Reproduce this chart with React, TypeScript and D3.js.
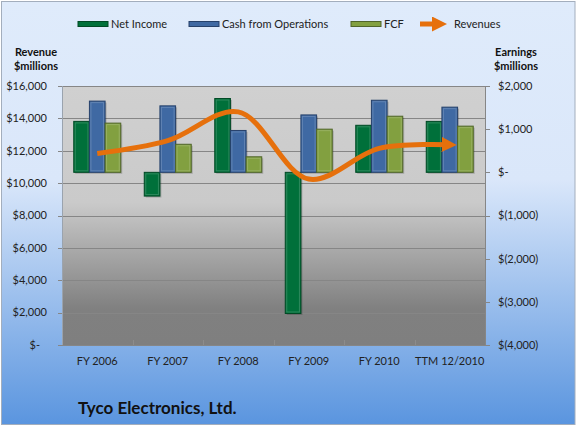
import React, { useRef, useEffect } from 'react';
import * as d3 from 'd3';

// values ($ millions)
const categories = ["FY 2006", "FY 2007", "FY 2008", "FY 2009", "FY 2010", "TTM 12/2010"];
const netIncome = [1180, -550, 1710, -3270, 1090, 1180];
const cashFromOps = [1650, 1540, 970, 1330, 1670, 1510];
const fcf = [1140, 650, 360, 1000, 1300, 1070];
const revenues = [11830, 12620, 14400, 10250, 12150, 12370];
const leftTicks = [0, 2000, 4000, 6000, 8000, 10000, 12000, 14000, 16000];
const rightTicks = [-4000, -3000, -2000, -1000, 0, 1000, 2000];

const seriesNames = ["Net Income", "Cash from Operations", "FCF"];
const seriesValues = [netIncome, cashFromOps, fcf];
const fills = ["#00703a", "#3f69a3", "#82a040"];
const strokes = ["#004a25", "#26416a", "#50652a"];
const lineColor = "#e6700c";

const App = () => {
  const svgRef = useRef();

  useEffect(() => {
    document.body.style.margin = "0";
    const svg = d3.select(svgRef.current);
    svg.selectAll("*").remove();

    const width = 577;
    const height = 427;
    const margin = { top: 86, right: 92, bottom: 82, left: 62 };
    const font = "Lato, 'Noto Sans', sans-serif";

    svg.attr("width", width).attr("height", height)
      .style("display", "block")
      .style("font-family", font);

    const defs = svg.append("defs");

    const bg = defs.append("linearGradient").attr("id", "bg")
      .attr("x1", 0).attr("y1", 0).attr("x2", 0).attr("y2", 1);
    bg.append("stop").attr("offset", "0%").attr("stop-color", "#dfebfb");
    bg.append("stop").attr("offset", "42%").attr("stop-color", "#dae7fa");
    bg.append("stop").attr("offset", "100%").attr("stop-color", "#5a95df");

    const pg = defs.append("linearGradient").attr("id", "plotbg")
      .attr("x1", 0).attr("y1", 0).attr("x2", 0).attr("y2", 1);
    pg.append("stop").attr("offset", "0%").attr("stop-color", "#d0d0d0");
    pg.append("stop").attr("offset", "45%").attr("stop-color", "#cacaca");
    pg.append("stop").attr("offset", "86%").attr("stop-color", "#808080");
    pg.append("stop").attr("offset", "100%").attr("stop-color", "#7f7f7f");

    defs.append("marker").attr("id", "arrow")
      .attr("markerUnits", "userSpaceOnUse")
      .attr("markerWidth", 16).attr("markerHeight", 16)
      .attr("refX", 8).attr("refY", 7.5)
      .attr("orient", "auto")
      .append("path")
      .attr("d", "M0,0 L15,7.5 L0,15 Z")
      .attr("fill", lineColor);

    // chart area
    svg.append("rect")
      .attr("x", 1.5).attr("y", 1.5)
      .attr("width", width - 3.5).attr("height", height - 4)
      .attr("fill", "url(#bg)")
      .attr("stroke", "#a3aebd");

    const x0 = margin.left;
    const x1 = width - margin.right;
    const y0 = height - margin.bottom;
    const y1 = margin.top;

    const x = d3.scaleBand().domain(categories).range([x0, x1]).padding(0);
    const bw = x.bandwidth();
    const xSub = d3.scaleBand().domain(seriesNames).range([bw / 6, bw * 5 / 6]).padding(0);
    const yL = d3.scaleLinear().domain([0, 16000]).range([y0, y1]);
    const yR = d3.scaleLinear().domain([-4000, 2000]).range([y0, y1]);

    // plot area
    svg.append("rect")
      .attr("x", x0).attr("y", y1)
      .attr("width", x1 - x0).attr("height", y0 - y1)
      .attr("fill", "url(#plotbg)");

    svg.append("g").selectAll("line")
      .data(leftTicks)
      .join("line")
      .attr("x1", x0 - 4).attr("x2", x1)
      .attr("y1", d => Math.round(yL(d)) + 0.5)
      .attr("y2", d => Math.round(yL(d)) + 0.5)
      .attr("stroke", "#868686");

    // faint category ticks along the bottom
    svg.append("g").selectAll("line")
      .data(categories.slice(1))
      .join("line")
      .attr("x1", d => Math.round(x(d)) + 0.5).attr("x2", d => Math.round(x(d)) + 0.5)
      .attr("y1", y0 - 5).attr("y2", y0)
      .attr("stroke", "#8c8c8c");

    svg.append("line")
      .attr("x1", x0 + 0.5).attr("x2", x0 + 0.5)
      .attr("y1", y1).attr("y2", y0)
      .attr("stroke", "#9aa3ae");
    svg.append("line")
      .attr("x1", x1 + 0.5).attr("x2", x1 + 0.5)
      .attr("y1", y1).attr("y2", y0)
      .attr("stroke", "#868686");
    svg.append("line")
      .attr("x1", x0).attr("x2", x1)
      .attr("y1", y0 + 0.5).attr("y2", y0 + 0.5)
      .attr("stroke", "#868686");

    // bars
    seriesNames.forEach((name, si) => {
      const g = svg.append("g");
      const data = seriesValues[si].map((v, i) => ({ cat: categories[i], v }));
      const bx = d => x(d.cat) + xSub(name);
      const by = d => Math.min(yR(0), yR(d.v));
      const bh = d => Math.abs(yR(d.v) - yR(0));
      g.selectAll("rect.shadow")
        .data(data)
        .join("rect")
        .attr("class", "shadow")
        .attr("x", d => bx(d) + 1.5).attr("y", d => by(d) + 1.5)
        .attr("width", xSub.bandwidth()).attr("height", bh)
        .attr("fill", "rgba(0,0,0,0.18)");
      g.selectAll("rect.bar")
        .data(data)
        .join("rect")
        .attr("class", "bar")
        .attr("x", bx).attr("y", by)
        .attr("width", xSub.bandwidth()).attr("height", bh)
        .attr("fill", fills[si])
        .attr("stroke", strokes[si])
        .attr("stroke-width", 1);
      g.selectAll("rect.bevel")
        .data(data)
        .join("rect")
        .attr("class", "bevel")
        .attr("x", d => bx(d) + 1.5).attr("y", d => by(d) + 1.5)
        .attr("width", xSub.bandwidth() - 3).attr("height", d => Math.max(0, bh(d) - 3))
        .attr("fill", "none")
        .attr("stroke", "rgba(255,255,255,0.18)")
        .attr("stroke-width", 1);
    });

    // revenues line
    const line = d3.line()
      .x((d, i) => x(categories[i]) + bw / 2)
      .y(d => yL(d))
      .curve(d3.curveCatmullRom.alpha(0.5));

    svg.append("path")
      .datum(revenues)
      .attr("d", line)
      .attr("fill", "none")
      .attr("stroke", lineColor)
      .attr("stroke-width", 5)
      .attr("stroke-linecap", "butt")
      .attr("marker-end", "url(#arrow)");

    // left axis labels
    svg.append("g").selectAll("text")
      .data(leftTicks)
      .join("text")
      .attr("x", d => d === 0 ? 40 : 47)
      .attr("y", d => yL(d))
      .attr("dy", "0.35em")
      .attr("text-anchor", "end")
      .style("font-size", "11px")
      .attr("fill", "#222")
      .text(d => d === 0 ? "$-" : "$" + d3.format(",")(d));

    // right axis ticks + labels
    svg.append("g").selectAll("line")
      .data(rightTicks)
      .join("line")
      .attr("x1", x1).attr("x2", x1 + 5)
      .attr("y1", d => Math.round(yR(d)) + 0.5)
      .attr("y2", d => Math.round(yR(d)) + 0.5)
      .attr("stroke", "#868686");

    svg.append("g").selectAll("text")
      .data(rightTicks)
      .join("text")
      .attr("x", 498)
      .attr("y", d => yR(d))
      .attr("dy", "0.35em")
      .style("font-size", "11px")
      .attr("fill", "#222")
      .text(d => d === 0 ? "$-" : d < 0 ? "$(" + d3.format(",")(-d) + ")" : "$" + d3.format(",")(d));

    // category labels
    svg.append("g").selectAll("text")
      .data(categories)
      .join("text")
      .attr("x", d => x(d) + bw / 2)
      .attr("y", 365)
      .attr("text-anchor", "middle")
      .style("font-size", "11px")
      .attr("fill", "#222")
      .text(d => d);

    // axis titles
    [["Revenue", "$millions", 36], ["Earnings", "$millions", 516]].forEach(([a, b, cx]) => {
      const t = svg.append("text")
        .attr("text-anchor", "middle")
        .style("font-size", "11px")
        .style("font-weight", "bold")
        .attr("fill", "#111");
      t.append("tspan").attr("x", cx).attr("y", 56).text(a);
      t.append("tspan").attr("x", cx).attr("y", 70).text(b);
    });

    // legend
    const legend = svg.append("g");
    const swatchX = [78, 189, 351];
    seriesNames.forEach((name, i) => {
      legend.append("rect")
        .attr("x", swatchX[i]).attr("y", 21.5)
        .attr("width", 30).attr("height", 5)
        .attr("fill", fills[i])
        .attr("stroke", strokes[i]);
      legend.append("text")
        .attr("x", swatchX[i] + 33).attr("y", 24)
        .attr("dy", "0.35em")
        .style("font-size", "11px")
        .attr("fill", "#222")
        .text(name);
    });
    legend.append("line")
      .attr("x1", 420).attr("x2", 440)
      .attr("y1", 24).attr("y2", 24)
      .attr("stroke", lineColor)
      .attr("stroke-width", 5)
      .attr("marker-end", "url(#arrow)");
    legend.append("text")
      .attr("x", 454).attr("y", 24)
      .attr("dy", "0.35em")
      .style("font-size", "11px")
      .attr("fill", "#222")
      .text("Revenues");

    // title
    svg.append("text")
      .attr("x", 78).attr("y", 414)
      .style("font-size", "17px")
      .style("font-weight", "bold")
      .attr("fill", "#111")
      .text("Tyco Electronics, Ltd.");
  }, []);

  return (
    <div>
      <svg ref={svgRef}></svg>
    </div>
  );
};

export default App;
